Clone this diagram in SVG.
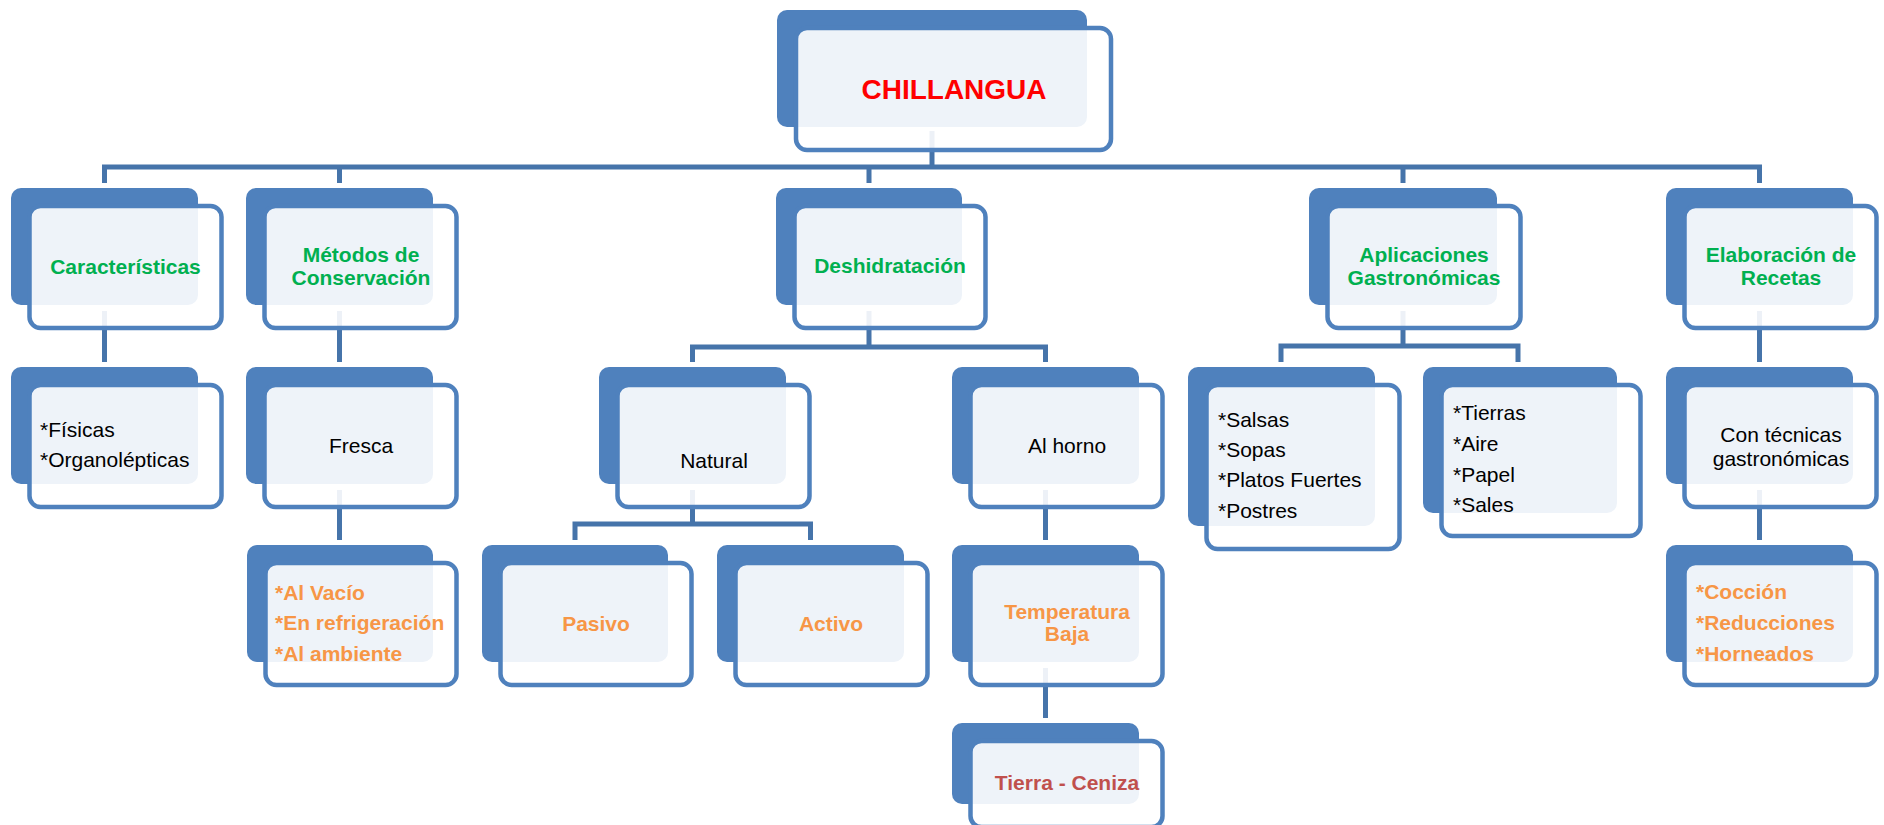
<svg xmlns="http://www.w3.org/2000/svg" width="1884" height="825" viewBox="0 0 1884 825">
<style>
.bk{fill:#4F81BD}
.fr{fill:#FFFFFF;fill-opacity:0.9;stroke:#4F81BD;stroke-width:4.5}
.cn{fill:none;stroke:#4674AA;stroke-width:5}
text{font-family:"Liberation Sans",Arial,sans-serif;font-size:21px}
.g{fill:#00B050;font-weight:bold;text-anchor:middle}
.o{fill:#F79646;font-weight:bold}
.oc{fill:#F79646;font-weight:bold;text-anchor:middle}
.k{fill:#000000}
.kc{fill:#000000;text-anchor:middle}
.title{fill:#FF0000;font-weight:bold;font-size:28px;text-anchor:middle}
</style>
<rect width="1884" height="825" fill="#FFFFFF"/>
<g id="connectors">
<path class="cn" d="M932 131V167"/>
<path class="cn" d="M104.5 183V167H1759.5V183M339.5 167V183M869 167V183M1403 167V183"/>
<path class="cn" d="M104.5 311V362M339.5 311V362M1759.5 311V362"/>
<path class="cn" d="M869 311V347M692.5 362V347H1045.5V362"/>
<path class="cn" d="M1403 311V346M1281 362V346H1518V362"/>
<path class="cn" d="M339.5 490V540M1045.5 490V540M1759.5 490V540"/>
<path class="cn" d="M692.5 490V524M575 540V524H810.5V540"/>
<path class="cn" d="M1045.5 668V718"/>
</g>
<g id="n-chillangua"><rect class="bk" x="777" y="10" width="310" height="117" rx="10"/><rect class="fr" x="796" y="28" width="315" height="122" rx="11"/><text class="title" x="954" y="99">CHILLANGUA</text></g>
<g id="n-caract"><rect class="bk" x="11" y="188" width="187" height="117" rx="10"/><rect class="fr" x="29.5" y="206" width="192" height="122" rx="11"/><text class="g" x="125.5" y="274">Características</text></g>
<g id="n-metodos"><rect class="bk" x="246" y="188" width="187" height="117" rx="10"/><rect class="fr" x="264.5" y="206" width="192" height="122" rx="11"/><text class="g" x="361" y="262">Métodos de</text><text class="g" x="361" y="285">Conservación</text></g>
<g id="n-deshid"><rect class="bk" x="776" y="188" width="186" height="117" rx="10"/><rect class="fr" x="794.5" y="206" width="191" height="122" rx="11"/><text class="g" x="890" y="273">Deshidratación</text></g>
<g id="n-aplic"><rect class="bk" x="1309" y="188" width="188" height="117" rx="10"/><rect class="fr" x="1327.5" y="206" width="193" height="122" rx="11"/><text class="g" x="1424" y="262">Aplicaciones</text><text class="g" x="1424" y="285">Gastronómicas</text></g>
<g id="n-elab"><rect class="bk" x="1666" y="188" width="187" height="117" rx="10"/><rect class="fr" x="1684.5" y="206" width="192" height="122" rx="11"/><text class="g" x="1781" y="262">Elaboración de</text><text class="g" x="1781" y="285">Recetas</text></g>
<g id="n-fisicas"><rect class="bk" x="11" y="367" width="187" height="117" rx="10"/><rect class="fr" x="29.5" y="385" width="192" height="122" rx="11"/><text class="k" x="40" y="437">*Físicas</text><text class="k" x="40" y="467">*Organolépticas</text></g>
<g id="n-fresca"><rect class="bk" x="246" y="367" width="187" height="117" rx="10"/><rect class="fr" x="264.5" y="385" width="192" height="122" rx="11"/><text class="kc" x="361" y="453">Fresca</text></g>
<g id="n-natural"><rect class="bk" x="599" y="367" width="187" height="117" rx="10"/><rect class="fr" x="617.5" y="385" width="192" height="122" rx="11"/><text class="kc" x="714" y="468">Natural</text></g>
<g id="n-alhorno"><rect class="bk" x="952" y="367" width="187" height="117" rx="10"/><rect class="fr" x="970.5" y="385" width="192" height="122" rx="11"/><text class="kc" x="1067" y="453">Al horno</text></g>
<g id="n-salsas"><rect class="bk" x="1188" y="367" width="187" height="159" rx="10"/><rect class="fr" x="1206.5" y="385" width="193" height="164" rx="11"/><text class="k" x="1218" y="427">*Salsas</text><text class="k" x="1218" y="457">*Sopas</text><text class="k" x="1218" y="487">*Platos Fuertes</text><text class="k" x="1218" y="518">*Postres</text></g>
<g id="n-tierras"><rect class="bk" x="1423" y="367" width="194" height="146" rx="10"/><rect class="fr" x="1441.5" y="385" width="199" height="151" rx="11"/><text class="k" x="1453" y="420">*Tierras</text><text class="k" x="1453" y="451">*Aire</text><text class="k" x="1453" y="482">*Papel</text><text class="k" x="1453" y="512">*Sales</text></g>
<g id="n-contecnicas"><rect class="bk" x="1666" y="367" width="187" height="117" rx="10"/><rect class="fr" x="1684.5" y="385" width="192" height="122" rx="11"/><text class="kc" x="1781" y="442">Con técnicas</text><text class="kc" x="1781" y="466">gastronómicas</text></g>
<g id="n-alvacio"><rect class="bk" x="247" y="545" width="186" height="117" rx="10"/><rect class="fr" x="265.5" y="563" width="191" height="122" rx="11"/><text class="o" x="275" y="600">*Al Vacío</text><text class="o" x="275" y="630">*En refrigeración</text><text class="o" x="275" y="661">*Al ambiente</text></g>
<g id="n-pasivo"><rect class="bk" x="482" y="545" width="186" height="117" rx="10"/><rect class="fr" x="500.5" y="563" width="191" height="122" rx="11"/><text class="oc" x="596" y="631">Pasivo</text></g>
<g id="n-activo"><rect class="bk" x="717" y="545" width="187" height="117" rx="10"/><rect class="fr" x="735.5" y="563" width="192" height="122" rx="11"/><text class="oc" x="831" y="631">Activo</text></g>
<g id="n-temperatura"><rect class="bk" x="952" y="545" width="187" height="117" rx="10"/><rect class="fr" x="970.5" y="563" width="192" height="122" rx="11"/><text class="oc" x="1067" y="619">Temperatura</text><text class="oc" x="1067" y="641">Baja</text></g>
<g id="n-coccion"><rect class="bk" x="1666" y="545" width="187" height="117" rx="10"/><rect class="fr" x="1684.5" y="563" width="192" height="122" rx="11"/><text class="o" x="1696" y="599">*Cocción</text><text class="o" x="1696" y="630">*Reducciones</text><text class="o" x="1696" y="661">*Horneados</text></g>
<g id="n-tierra"><rect class="bk" x="952" y="723" width="187" height="81" rx="10"/><rect class="fr" x="970.5" y="741" width="192" height="86" rx="11"/><text x="1067" y="790" text-anchor="middle" font-weight="bold" fill="#C0504D">Tierra - Ceniza</text></g>
</svg>
